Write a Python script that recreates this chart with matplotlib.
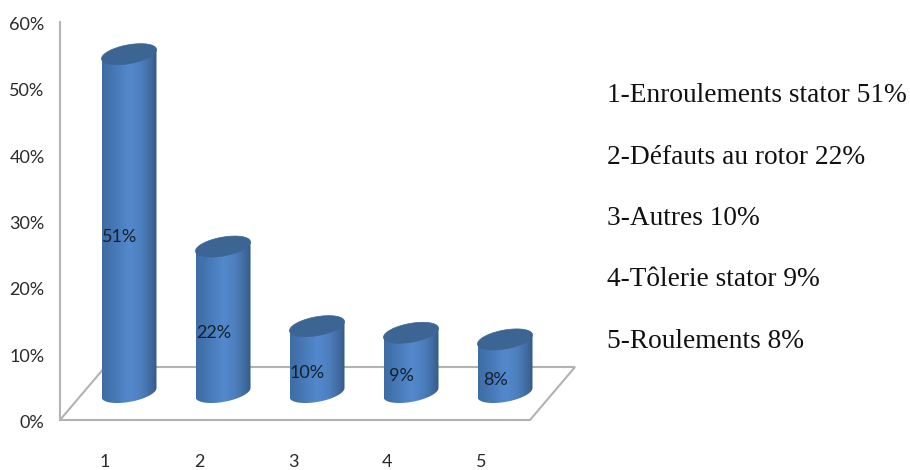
import numpy as np
import matplotlib
matplotlib.use("Agg")
import matplotlib.pyplot as plt
from matplotlib.colors import LinearSegmentedColormap
from matplotlib.patches import Polygon
from matplotlib.transforms import ScaledTranslation

categories = [1, 2, 3, 4, 5]
values = [51, 22, 10, 9, 8]
names = ["Enroulements stator", "Défauts au rotor", "Autres", "Tôlerie stator", "Roulements"]
y_ticks = [0, 10, 20, 30, 40, 50, 60]

W, H = 910, 470
LEFT, RIGHT, BOTTOM, TOP = 60, 575, 420, 22
PX_X = 94.0  # px per category
PX_Y = (BOTTOM - TOP) / 60.0  # px per percent
X1_PX = 129
AXIS_FONT = ["Lato", "DejaVu Sans"]

fig = plt.figure(figsize=(W / 100, H / 100), dpi=100)
ax = fig.add_axes([LEFT / W, 1 - BOTTOM / H, (RIGHT - LEFT) / W, (BOTTOM - TOP) / H])
ax.set_xlim(1 + (LEFT - X1_PX) / PX_X, 1 + (RIGHT - X1_PX) / PX_X)
ax.set_ylim(0, 60)
x0, x1 = ax.get_xlim()

for s in ("top", "right", "bottom"):
    ax.spines[s].set_visible(False)
ax.spines["left"].set_color("#b4b4b4")
ax.spines["left"].set_linewidth(1.5)
ax.patch.set_alpha(0)

# floor of the 3d box
depth_x = 45 / PX_X
depth_y = 53 / PX_Y
floor = Polygon([[x0, 0], [x1 - depth_x, 0], [x1, depth_y], [x0 + depth_x, depth_y]],
                closed=True, fill=False, edgecolor="#b2b2b2", linewidth=1.5,
                clip_on=False, zorder=1)
ax.add_patch(floor)

cmap = LinearSegmentedColormap.from_list("cyl", [
    (0.0, "#3f6ca5"), (0.12, "#4272ad"), (0.5, "#5389cd"),
    (0.72, "#4d7fbd"), (0.9, "#3f6a9f"), (1.0, "#365a87")])
grad = np.linspace(0, 1, 128).reshape(1, -1)

half_w = 27.5 / PX_X
shear = 4.5 / PX_Y
minor = 9.5 / PX_Y
base_y = 27.5 / PX_Y
t = np.linspace(0, 2 * np.pi, 120)


def ellipse(cx, cy):
    return np.column_stack([cx + half_w * np.cos(t), cy + shear * np.cos(t) + minor * np.sin(t)])


for cat, val in zip(categories, values):
    top_y = base_y + val
    low = ellipse(cat, base_y)
    high = ellipse(cat, top_y)
    lower_half = low[(t >= np.pi) & (t <= 2 * np.pi)]
    outline = np.vstack([lower_half, [[cat + half_w, top_y + shear]], [[cat - half_w, top_y - shear]]])
    body = Polygon(outline, closed=True, transform=ax.transData, facecolor="none", edgecolor="none")
    ax.add_patch(body)
    im = ax.imshow(grad, extent=[cat - half_w, cat + half_w, 0, top_y + shear], cmap=cmap,
                   aspect="auto", zorder=3, interpolation="bilinear")
    im.set_clip_path(body)
    ax.add_patch(Polygon(high, closed=True, facecolor="#3c6593", edgecolor="#3c6593",
                         linewidth=0.5, zorder=4))
    ax.annotate(f"{val}%", (cat, 2.1 + val / 2), xytext=(-7, 0), textcoords="offset points",
                ha="center", va="center", fontsize=13, family=AXIS_FONT, color="#14202e", zorder=5)

ax.set_xlim(x0, x1)
ax.set_ylim(0, 60)

ax.set_yticks(y_ticks)
ax.set_yticklabels([f"{v}%" for v in y_ticks], family=AXIS_FONT, fontsize=13, color="#2a2a2a")
ax.set_xticks(categories)
ax.set_xticklabels([str(c) for c in categories], family=AXIS_FONT, fontsize=13, color="#2a2a2a")
ax.tick_params(axis="y", length=0, pad=11)
ax.tick_params(axis="x", length=0, pad=24.5)
for lab in ax.get_xticklabels():
    lab.set_transform(lab.get_transform() + ScaledTranslation(-24 / 100, 0, fig.dpi_scale_trans))
for lab in ax.get_yticklabels():
    lab.set_transform(lab.get_transform() + ScaledTranslation(0, -1.5 / 100, fig.dpi_scale_trans))

# legend text on the right
legend_y = [95, 157, 219, 280, 342]
for cat, name, val, py in zip(categories, names, values, legend_y):
    fig.text(607 / W, 1 - py / H, f"{cat}-{name} {val}%", family="Liberation Serif",
             fontsize=19.7, color="#111111", ha="left", va="center")

fig.savefig("out.png", dpi=100)
